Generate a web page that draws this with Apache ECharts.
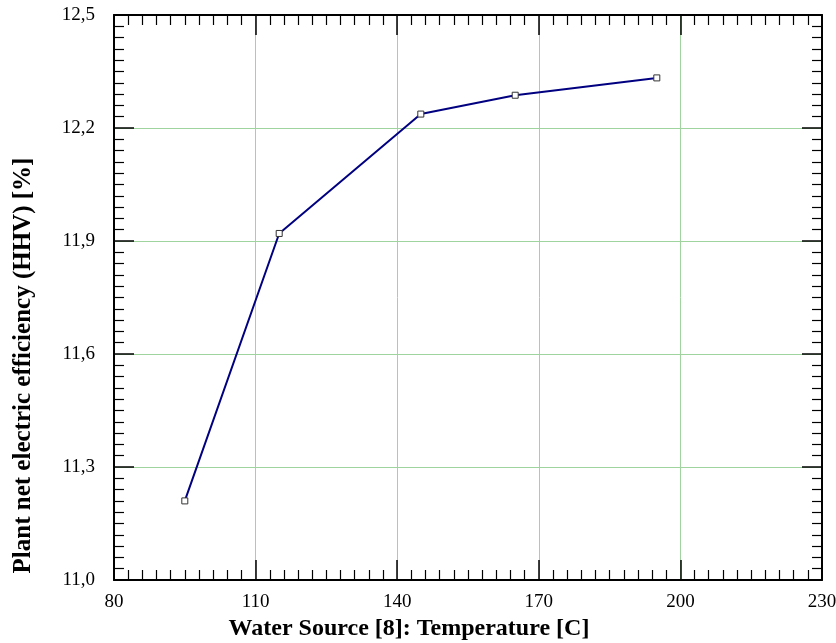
<!DOCTYPE html>
<html>
<head>
<meta charset="utf-8">
<script src="https://cdn.jsdelivr.net/npm/echarts@6/dist/echarts.min.js"></script>
<style>
  html, body { margin: 0; padding: 0; background: #fff; }
  #chart { width: 836px; height: 643px; }
</style>
</head>
<body>
<div id="chart"></div>
<script>
  // water source temperature [C] vs. plant efficiency [%]
  var temperature = [95, 115, 145, 165, 195];
  var efficiency = [11.21, 11.92, 12.237, 12.287, 12.333];

  var xTitle = 'Water Source [8]: Temperature [C]';
  var yTitle = 'Plant net electric efficiency (HHV) [%]';

  var serif = 'Liberation Serif';

  function commaLabel(v) {
    return v.toFixed(1).replace('.', ',');
  }

  var tickStyle = { show: true, inside: true, length: 20, lineStyle: { color: '#000', width: 1.5 } };
  var minorStyle = { show: true, splitNumber: 10, length: 10, lineStyle: { color: '#000', width: 1.2 } };
  var lineAxis = { show: true, lineStyle: { color: '#000', width: 2 } };
  var gridLine = { show: true, lineStyle: { color: '#9fd49f', width: 1 } };

  var chart = echarts.init(document.getElementById('chart'));
  chart.setOption({
    animation: false,
    grid: { left: 114, right: 14, top: 15, bottom: 63, containLabel: false, outerBoundsMode: 'none' },
    xAxis: [
      {
        type: 'value', min: 80, max: 230, interval: 30, position: 'bottom',
        name: xTitle, nameLocation: 'middle', nameGap: 35,
        // title sits left of the plot centre in the original
        nameTextStyle: { fontFamily: serif, fontWeight: 'bold', fontSize: 24, color: '#000', padding: [0, 118, 0, 0] },
        axisLine: lineAxis, axisTick: tickStyle, minorTick: minorStyle,
        splitLine: gridLine,
        axisLabel: { fontFamily: serif, fontSize: 19, color: '#000', margin: 13 }
      },
      {
        type: 'value', min: 80, max: 230, interval: 30, position: 'top',
        axisLine: lineAxis, axisTick: tickStyle, minorTick: minorStyle,
        splitLine: { show: false }, axisLabel: { show: false }
      }
    ],
    yAxis: [
      {
        type: 'value', min: 11.0, max: 12.5, interval: 0.3, position: 'left',
        name: yTitle, nameLocation: 'middle', nameGap: 78, nameRotate: 90,
        nameTextStyle: { fontFamily: serif, fontWeight: 'bold', fontSize: 25, color: '#000', padding: [0, 136, 0, 0] },
        axisLine: lineAxis, axisTick: tickStyle, minorTick: minorStyle,
        splitLine: gridLine,
        axisLabel: { fontFamily: serif, fontSize: 19, color: '#000', margin: 19, formatter: commaLabel }
      },
      {
        type: 'value', min: 11.0, max: 12.5, interval: 0.3, position: 'right',
        axisLine: lineAxis, axisTick: tickStyle, minorTick: minorStyle,
        splitLine: { show: false }, axisLabel: { show: false }
      }
    ],
    series: [
      {
        type: 'line',
        data: temperature.map(function (t, i) { return [t, efficiency[i]]; }),
        lineStyle: { color: '#000080', width: 2 },
        symbol: 'rect', symbolSize: 6,
        itemStyle: { color: '#fff', borderColor: '#333', borderWidth: 1 },
        z: 5
      }
    ]
  });
</script>
</body>
</html>
